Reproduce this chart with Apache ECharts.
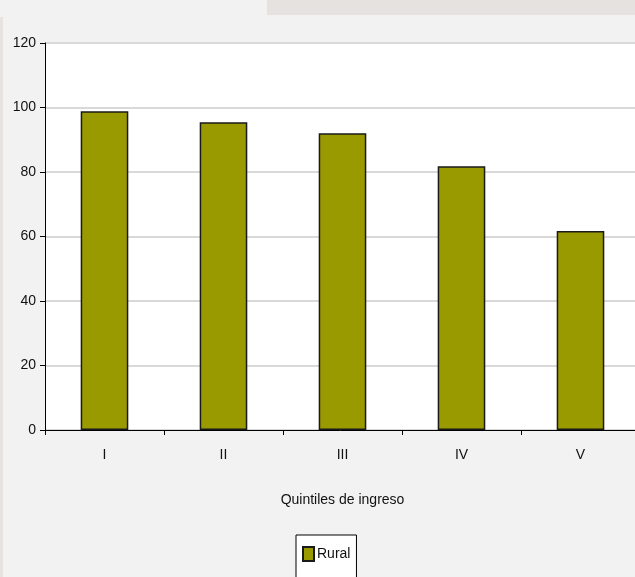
<!DOCTYPE html>
<html>
<head>
<meta charset="utf-8">
<script src="https://cdn.jsdelivr.net/npm/echarts@6/dist/echarts.min.js"></script>
<style>
  html, body { margin: 0; padding: 0; background: #f2f2f2; }
  #main { width: 635px; height: 577px; }
</style>
</head>
<body>
<div id="main"></div>
<script>
// quintiles on the x axis
const quintiles = ["I", "II", "III", "IV", "V"];
// Rural series
const rural = [98.8, 95.4, 92.0, 81.8, 61.7];
const yTicks = { min: 0, max: 120, interval: 20 };

const font = '"Liberation Sans", Arial, sans-serif';

const myChart = echarts.init(document.getElementById("main"));
const option = {
  backgroundColor: "#f2f2f2",
  animation: false,
  textStyle: { fontFamily: font },
  graphic: [
    // little bits of window chrome around the chart
    { type: "rect", left: 267, top: 0, shape: { width: 368, height: 15 }, style: { fill: "#e6e2df" }, silent: true },
    { type: "rect", left: 0, top: 17, shape: { width: 3, height: 560 }, style: { fill: "#e7e3e0" }, silent: true }
  ],
  grid: {
    left: 45,
    right: -5,
    top: 43,
    bottom: 147,
    outerBoundsMode: "none",
    show: true,
    backgroundColor: "#ffffff",
    borderWidth: 0
  },
  legend: {
    data: ["Rural"],
    left: 296,
    top: 535,
    orient: "vertical",
    icon: "rect",
    backgroundColor: "#ffffff",
    borderColor: "#000000",
    borderWidth: 1,
    borderRadius: 0,
    padding: [11, 6, 30, 6],
    itemWidth: 11,
    itemHeight: 14,
    itemGap: 0,
    textStyle: { fontFamily: font, fontSize: 14, color: "#111", padding: [0, 0, 0, -2] }
  },
  xAxis: {
    type: "category",
    data: quintiles,
    boundaryGap: true,
    name: "Quintiles de ingreso",
    nameLocation: "middle",
    nameGap: 63,
    nameTextStyle: { fontFamily: font, fontSize: 14, color: "#111" },
    axisLine: { lineStyle: { color: "#000", width: 1 } },
    axisTick: { show: true, alignWithLabel: false, length: 5, lineStyle: { color: "#000" } },
    axisLabel: { margin: 18, fontFamily: font, fontSize: 14, color: "#111" },
    splitLine: { show: false }
  },
  yAxis: {
    type: "value",
    min: yTicks.min,
    max: yTicks.max,
    interval: yTicks.interval,
    axisLine: { show: true, lineStyle: { color: "#000", width: 1 } },
    axisTick: { show: true, length: 5, lineStyle: { color: "#000" } },
    axisLabel: { margin: 9, fontFamily: font, fontSize: 14, color: "#111" },
    splitLine: { show: true, lineStyle: { color: "#d9d9d9", width: 2 } }
  },
  series: [
    {
      name: "Rural",
      type: "bar",
      data: rural,
      barWidth: "40%",
      itemStyle: { color: "#999900", borderColor: "#1a1a1a", borderWidth: 1.5 }
    }
  ]
};
myChart.setOption(option);
</script>
</body>
</html>
